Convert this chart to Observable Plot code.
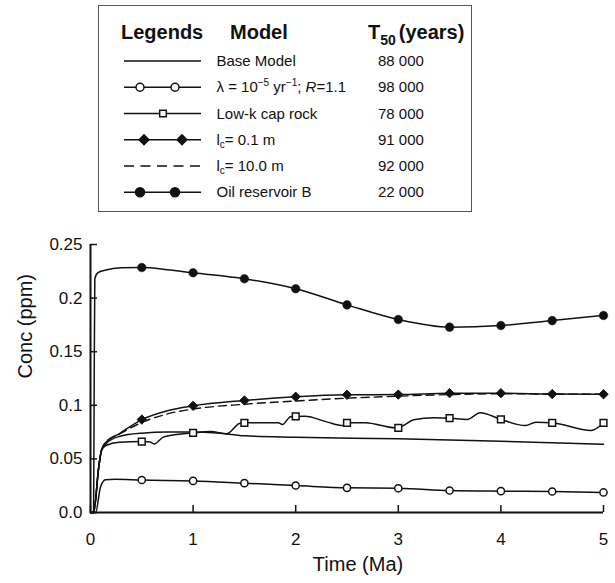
<!DOCTYPE html>
<html><head><meta charset="utf-8">
<script src="https://cdn.jsdelivr.net/npm/d3@7"></script>
<script src="https://cdn.jsdelivr.net/npm/@observablehq/plot@0.6"></script>
<style>
body{margin:0;background:#fff;}
#wrap{position:relative;width:615px;height:583px;overflow:hidden;font-family:"Liberation Sans",Arial,Helvetica,sans-serif;}
#legend{position:absolute;left:0;top:0;}
#chart{position:absolute;left:0;top:215px;}
</style></head>
<body><div id="wrap"><div id="legend"></div><div id="chart"></div></div>
<script>
// ---- data (time in Ma, concentration in ppm) ----
const xTicks = [0, 1, 2, 3, 4, 5];
const yTicks = [0, 0.05, 0.1, 0.15, 0.2, 0.25];
const markerTimes = [0.5, 1, 1.5, 2, 2.5, 3, 3.5, 4, 4.5, 5];

const baseModel = [[0,0],[0.03,0],[0.08,0.042],[0.107,0.058],[0.15,0.064],[0.28,0.0709],[0.5,0.074],[0.75,0.075],[1.0,0.075],[1.2,0.0745],[1.5,0.0715],[2.0,0.0702],[3.0,0.0687],[4.0,0.0664],[5.0,0.0636]];
const lambdaModel = [[0,0],[0.05,0],[0.097,0.0236],[0.146,0.0305],[0.24,0.031],[0.5,0.0303],[1.0,0.0295],[1.5,0.0274],[2.0,0.0252],[2.5,0.023],[3.0,0.0226],[3.5,0.0205],[4.0,0.0199],[4.5,0.0196],[5.0,0.0187]];
const lowKCapRock = [[0,0],[0.03,0],[0.08,0.042],[0.107,0.058],[0.15,0.0625],[0.28,0.0656],[0.5,0.0662],[0.58,0.0658],[0.62,0.064],[0.71,0.0703],[0.9,0.0734],[1.0,0.0743],[1.17,0.0755],[1.33,0.0735],[1.45,0.083],[1.5,0.0837],[1.83,0.0837],[1.87,0.082],[1.95,0.0893],[2.0,0.0896],[2.09,0.0898],[2.31,0.0843],[2.46,0.0811],[2.5,0.0837],[2.68,0.0837],[2.97,0.079],[3.0,0.079],[3.05,0.0812],[3.15,0.0865],[3.35,0.0883],[3.5,0.088],[3.67,0.0868],[3.8,0.093],[4.0,0.0868],[4.24,0.0811],[4.34,0.0843],[4.5,0.0837],[4.88,0.0765],[5.0,0.0837]];
const lc01 = [[0,0],[0.03,0],[0.08,0.042],[0.107,0.058],[0.15,0.0656],[0.28,0.0734],[0.5,0.0867],[0.75,0.095],[1.0,0.0995],[1.5,0.1045],[2.0,0.108],[2.5,0.1098],[3.0,0.110],[3.5,0.1113],[4.0,0.1113],[4.5,0.1105],[5.0,0.1103]];
const lc10 = [[0,0],[0.03,0],[0.08,0.042],[0.107,0.058],[0.15,0.0656],[0.28,0.073],[0.5,0.084],[0.75,0.092],[1.0,0.0965],[1.5,0.101],[2.0,0.104],[2.5,0.1066],[3.0,0.1085],[3.5,0.110],[4.0,0.1108],[4.5,0.1105],[5.0,0.1103]];
const oilReservoirB = [[0,0],[0.03,0],[0.036,0.12],[0.042,0.218],[0.07,0.2235],[0.15,0.2262],[0.3,0.2282],[0.5,0.2285],[0.75,0.2265],[1.0,0.2236],[1.5,0.218],[2.0,0.2087],[2.5,0.1937],[3.0,0.180],[3.5,0.1729],[4.0,0.1744],[4.5,0.179],[5.0,0.1838]];

const t50Values = ["88 000", "98 000", "78 000", "91 000", "92 000", "22 000"];
// model labels as rich-text segments [text, kind]
const modelLabels = [
  [["Base Model",""]],
  [["λ = 10",""],["−5","sup"],[" yr",""],["−1","sup"],["; ",""],["R","it"],["=1.1",""]],
  [["Low-k cap rock",""]],
  [["l",""],["c","sub"],["= 0.1 m",""]],
  [["l",""],["c","sub"],["= 10.0 m",""]],
  [["Oil reservoir B",""]]
];

const FONT = '"Liberation Sans", Arial, Helvetica, sans-serif';
const INK = "#111";

// ---- chart ----
const rows = (name, pts) => pts.map(([t, c]) => ({name, t, c}));
const isMarker = d => markerTimes.includes(d.t);
const solid = [
  ...rows("base", baseModel), ...rows("lambda", lambdaModel), ...rows("lowk", lowKCapRock),
  ...rows("lc01", lc01), ...rows("oil", oilReservoirB)
];

const chart = Plot.plot({
  width: 615, height: 368,
  marginLeft: 90, marginRight: 12, marginTop: 29, marginBottom: 71,
  x: {domain: [0, 5]},
  y: {domain: [0, 0.25]},
  style: {fontFamily: FONT, fontSize: "17px", color: INK, background: "transparent"},
  marks: [
    Plot.line(solid, {x: "t", y: "c", z: "name", curve: "monotone-x", stroke: INK, strokeWidth: 1.5}),
    Plot.line(rows("lc10", lc10), {x: "t", y: "c", curve: "monotone-x", stroke: INK, strokeWidth: 1.4, strokeDasharray: "8,5"}),
    Plot.ruleY([0], {stroke: INK, strokeWidth: 2}),
    Plot.ruleX([0], {stroke: INK, strokeWidth: 2}),
    Plot.axisX({ticks: xTicks, tickSize: -7, tickPadding: 27, fontSize: 17, label: null, strokeWidth: 1.5, tickFormat: d => String(d)}),
    Plot.axisY({ticks: yTicks, tickSize: -7, tickPadding: 15, fontSize: 17, label: null, strokeWidth: 1.5, tickFormat: d => d === 0 ? "0.0" : String(d)}),
    Plot.dot(rows("lambda", lambdaModel).filter(isMarker), {x: "t", y: "c", r: 3.6, fill: "white", stroke: INK, strokeWidth: 1.5}),
    Plot.dot(rows("lowk", lowKCapRock).filter(isMarker), {x: "t", y: "c", symbol: "square", r: 3.8, fill: "white", stroke: INK, strokeWidth: 1.5}),
    Plot.dot(rows("lc01", lc01).filter(isMarker), {x: "t", y: "c", symbol: "diamond2", r: 4.2, fill: INK, stroke: INK, strokeWidth: 1}),
    Plot.dot(rows("oil", oilReservoirB).filter(isMarker), {x: "t", y: "c", r: 4.3, fill: INK, stroke: INK, strokeWidth: 0.5}),
    Plot.text(["Time (Ma)"], {frameAnchor: "bottom", dy: 58, dx: 11, fontSize: 20, fill: INK}),
    Plot.text(["Conc (ppm)"], {frameAnchor: "left", dx: -65, rotate: -90, fontSize: 20, fill: INK})
  ]
});
document.getElementById("chart").appendChild(chart);

// ---- legend box ----
const L = d3.select("#legend").append("svg")
  .attr("width", 615).attr("height", 215)
  .style("font-family", FONT).attr("fill", INK);
L.append("rect").attr("x", 98.5).attr("y", 5.5).attr("width", 373).attr("height", 206)
  .attr("fill", "none").attr("stroke", "#555").attr("stroke-width", 1);

const hdr = L.append("g").attr("font-weight", "bold").attr("font-size", 20);
hdr.append("text").attr("x", 121).attr("y", 39).text("Legends");
hdr.append("text").attr("x", 230).attr("y", 39).text("Model");
const tt = hdr.append("text").attr("x", 368).attr("y", 39);
tt.append("tspan").text("T");
tt.append("tspan").attr("font-size", 14).attr("dy", 6).text("50");
tt.append("tspan").attr("dy", -6).attr("dx", 3).text("(years)");

const symbolFor = {
  circleOpen: d3.symbol(d3.symbolCircle, Math.PI * 4 * 4),
  square: d3.symbol(d3.symbolSquare, 44),
  diamond: d3.symbol(d3.symbolDiamond2, Math.PI * 4.4 * 4.4),
  circleFilled: d3.symbol(d3.symbolCircle, Math.PI * 4.5 * 4.5)
};
const legendSymbols = [
  {dash: null, marks: []},
  {dash: null, marks: [["circleOpen", 140], ["circleOpen", 175]]},
  {dash: null, marks: [["square", 163]]},
  {dash: null, marks: [["diamond", 144], ["diamond", 182]]},
  {dash: "10,6.5", marks: []},
  {dash: null, marks: [["circleFilled", 140], ["circleFilled", 175]]}
];

modelLabels.forEach((segs, i) => {
  const base = 66 + i * 26.26;
  const ly = base - 5;
  const sym = legendSymbols[i];
  const ln = L.append("line").attr("x1", 124).attr("x2", 201).attr("y1", ly).attr("y2", ly)
    .attr("stroke", INK).attr("stroke-width", 1.4);
  if (sym.dash) ln.attr("stroke-dasharray", sym.dash);
  sym.marks.forEach(([kind, mx]) => {
    const filled = kind === "diamond" || kind === "circleFilled";
    L.append("path").attr("d", symbolFor[kind]())
      .attr("transform", `translate(${mx},${ly})`)
      .attr("fill", filled ? INK : "white").attr("stroke", INK).attr("stroke-width", 1.5);
  });
  const tx = L.append("text").attr("x", 216.5).attr("y", base).attr("font-size", 15);
  let shift = 0;
  segs.forEach(([s, kind]) => {
    const sp = tx.append("tspan").text(s);
    let target = 0;
    if (kind === "sup") { sp.attr("font-size", 10); target = -6; }
    else if (kind === "sub") { sp.attr("font-size", 10); target = 3; }
    else if (kind === "it") { sp.attr("font-style", "italic"); }
    sp.attr("dy", target - shift);
    shift = target;
  });
  L.append("text").attr("x", 378).attr("y", base).attr("font-size", 15).text(t50Values[i]);
});
</script>
</body></html>
